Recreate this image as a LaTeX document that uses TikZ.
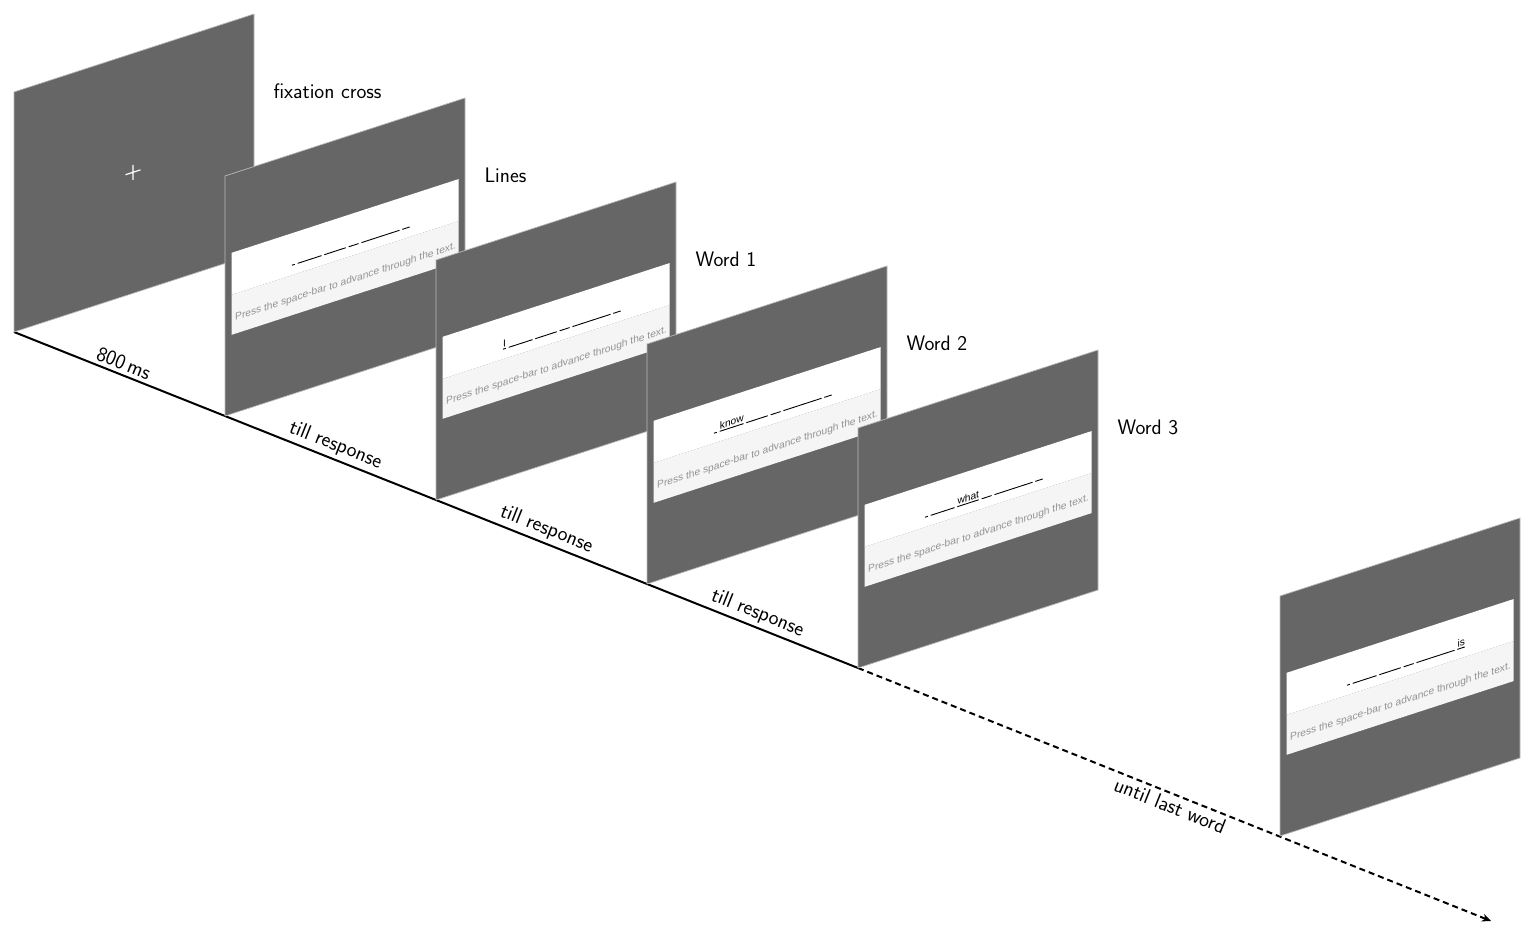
\documentclass[tikz,border=0pt]{standalone}
\usepackage{fontspec}
\newfontfamily\scrfont{Liberation Sans}
\usetikzlibrary{arrows.meta}
\definecolor{screengray}{HTML}{666666}
\definecolor{bandgray}{HTML}{F5F5F5}
\definecolor{hintgray}{HTML}{939393}
\tikzset{
  screen/.style={fill=screengray, draw=gray!55, line width=0.7pt},
  whiteband/.style={fill=white},
  hintband/.style={fill=bandgray},
  hint/.style={font=\scrfont\fontsize{10.2}{12}\selectfont, text=hintgray, anchor=base west, inner sep=0pt, transform shape},
  word/.style={font=\scrfont\fontsize{10.2}{12}\selectfont, anchor=base west, inner sep=0pt, transform shape},
  blank/.style={line width=0.9pt},
  lbl/.style={font=\sffamily\fontsize{21}{25}\selectfont},
  timeline/.style={line width=2pt},
}
% screen frame: name
\newcommand\screenframe[1]{%
  \fill[screen] (0,0) rectangle (240,240);
  \coordinate (#1tr) at (240,240);
  \coordinate (#1bl) at (0,0);
}
\newcommand\hintpart[1]{%
  \fill[whiteband] (6.5,119) rectangle (233.5,161);
  \fill[hintband] (6.5,79) rectangle (233.5,119);
  \node[hint] (#1hint) at (10,92) {Press the space-bar to advance through the text.};
}
\newcommand\blankline[2]{\draw[blank] (#1,129) -- (#2,129);}
\newcommand\allblanks{%
  \blankline{67}{69.8}\blankline{72.7}{96.5}\blankline{99.3}{120.8}
  \blankline{123.6}{133.6}\blankline{136.5}{174.5}\blankline{177.3}{184.7}}
\begin{document}
\begin{tikzpicture}[x=1pt,y=1pt]
\useasboundingbox (0,0) rectangle (1532,933);
% screen anchor coordinates
\coordinate (s1bl) at (14,601);
\coordinate (s2bl) at (225,517);
\coordinate (s3bl) at (436,433);
\coordinate (s4bl) at (647,349);
\coordinate (s5bl) at (858,265);
\coordinate (s6bl) at (1280,97);
\coordinate (tend) at (1491,12);
% timeline
\draw[timeline] (s1bl) -- node[lbl, midway, above, sloped] (t1) {800\,ms}
  (s2bl) -- node[lbl, midway, above, sloped] (t2) {till response}
  (s3bl) -- node[lbl, midway, above, sloped] (t3) {till response}
  (s4bl) -- node[lbl, midway, above, sloped] (t4) {till response} (s5bl);
\draw[timeline, dash pattern=on 6pt off 4pt, -{Stealth[length=9pt,width=8pt]}]
  (s5bl) -- node[lbl, midway, below, sloped] (t5) {until last word} (tend);
% screen 1: fixation
\begin{scope}[shift={(14,601)}, cm={1,0.325,0,1,(0,0)}]
  \screenframe{s1}
  \draw[white, line width=1.2pt] (111.5,121) -- (126.5,121) (119,113.5) -- (119,128.5);
\end{scope}
% screen 2: lines
\begin{scope}[shift={(225,517)}, cm={1,0.325,0,1,(0,0)}]
  \screenframe{s2}
  \hintpart{s2}
  \allblanks
\end{scope}
% screen 3: word 1
\begin{scope}[shift={(436,433)}, cm={1,0.325,0,1,(0,0)}]
  \screenframe{s3}
  \hintpart{s3}
  \node[word] (s3w) at (67,131) {I};
  \allblanks
\end{scope}
% screen 4: word 2
\begin{scope}[shift={(647,349)}, cm={1,0.325,0,1,(0,0)}]
  \screenframe{s4}
  \hintpart{s4}
  \node[word] (s4w) at (72.7,131) {know};
  \allblanks
\end{scope}
% screen 5: word 3
\begin{scope}[shift={(858,265)}, cm={1,0.325,0,1,(0,0)}]
  \screenframe{s5}
  \hintpart{s5}
  \node[word] (s5w) at (99.3,131) {what};
  \allblanks
\end{scope}
% screen 6: last word
\begin{scope}[shift={(1280,97)}, cm={1,0.325,0,1,(0,0)}]
  \screenframe{s6}
  \hintpart{s6}
  \node[word] (s6w) at (177.3,131) {is};
  \allblanks
\end{scope}
% screen labels
\node[lbl, anchor=base west] (l1) at ([shift={(16,-85)}]s1tr) {fixation cross};
\node[lbl, anchor=base west] (l2) at ([shift={(16,-85)}]s2tr) {Lines};
\node[lbl, anchor=base west] (l3) at ([shift={(16,-85)}]s3tr) {Word 1};
\node[lbl, anchor=base west] (l4) at ([shift={(16,-85)}]s4tr) {Word 2};
\node[lbl, anchor=base west] (l5) at ([shift={(16,-85)}]s5tr) {Word 3};
\end{tikzpicture}
\end{document}
